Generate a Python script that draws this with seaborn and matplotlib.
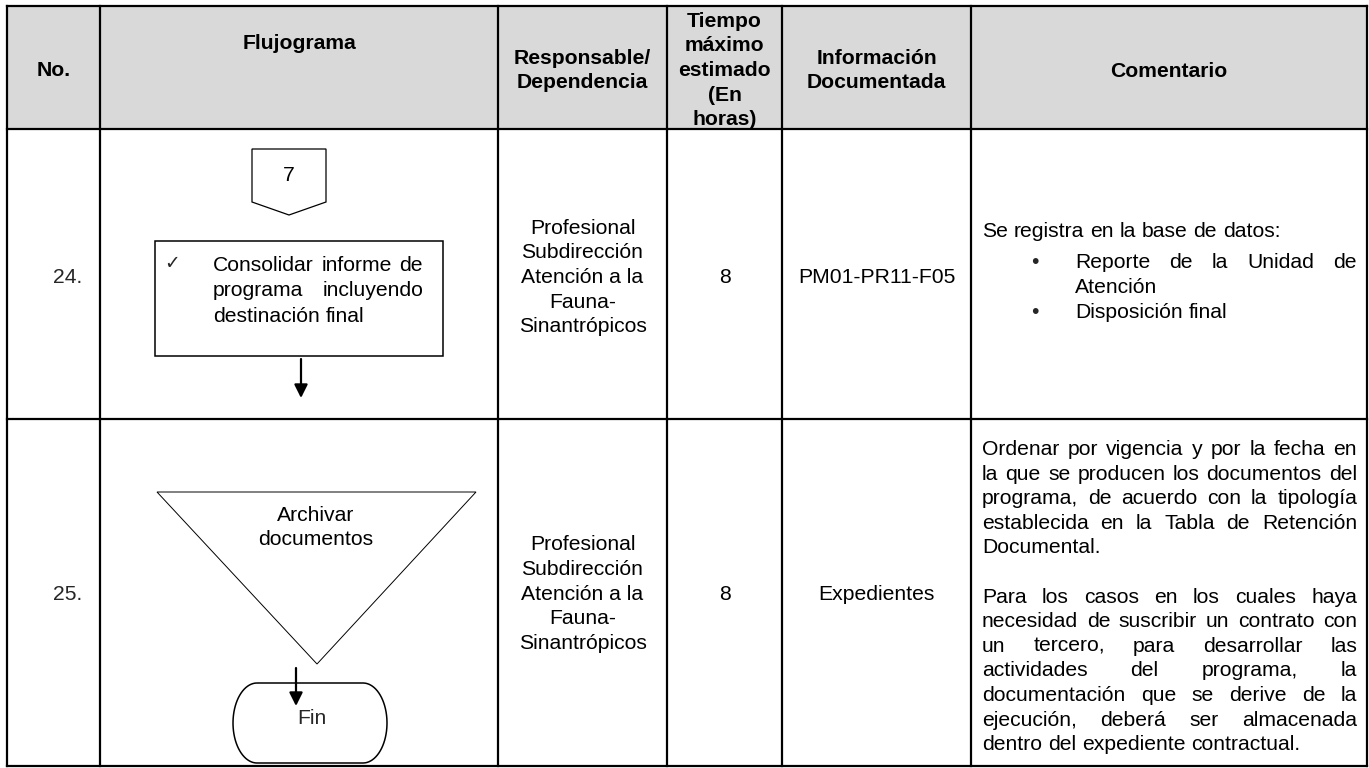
import matplotlib
matplotlib.use("Agg")
import matplotlib.pyplot as plt
import seaborn as sns
import numpy as np
from matplotlib.patches import Polygon, Rectangle, PathPatch
from matplotlib.path import Path

# ---------------- data ----------------
headers = ["No.", "Flujograma", "Responsable/\nDependencia",
           "Tiempo\nmáximo\nestimado\n(En\nhoras)", "Información\nDocumentada", "Comentario"]
row_numbers = ["24.", "25."]
responsables = ["Profesional\nSubdirección\nAtención a la\nFauna-\nSinantrópicos",
                "Profesional\nSubdirección\nAtención a la\nFauna-\nSinantrópicos"]
tiempos = ["8", "8"]
info_docs = ["PM01-PR11-F05", "Expedientes"]
connector_label = "7"
activity_lines = ["Consolidar informe de", "programa incluyendo", "destinación final"]
archive_label = "Archivar\ndocumentos"
end_label = "Fin"
comment24_intro = "Se registra en la base de datos:"
comment24_bullets = [["Reporte de la Unidad de", "Atención"], ["Disposición final"]]
comment25_lines = ["Ordenar por vigencia y por la fecha en",
                   "la que se producen los documentos del",
                   "programa, de acuerdo con la tipología",
                   "establecida en la Tabla de Retención",
                   "Documental.",
                   "",
                   "Para los casos en los cuales haya",
                   "necesidad de suscribir un contrato con",
                   "un tercero, para desarrollar las",
                   "actividades del programa, la",
                   "documentación que se derive de la",
                   "ejecución, deberá ser almacenada",
                   "dentro del expediente contractual."]

# ---------------- style ----------------
sns.set_theme(style="white")
plt.rcParams["font.family"] = ["Liberation Sans", "DejaVu Sans"]

W, H = 1369, 768
fig = plt.figure(figsize=(W / 100, H / 100), dpi=100)
ax = fig.add_axes([0, 0, 1, 1])
ax.set_xlim(0, W)
ax.set_ylim(H, 0)
ax.axis("off")

FS = 15.2          # ~21 px em
LS = 24.6          # line step in px
BASE = 7           # baseline offset from visual centre
renderer = fig.canvas.get_renderer()

col_x = [7, 100, 498, 667, 782, 971, 1367]
row_y = [6, 129, 419, 766]

# header background
ax.add_patch(Rectangle((col_x[0], row_y[0]), col_x[-1] - col_x[0], row_y[1] - row_y[0],
                       facecolor="#d9d9d9", edgecolor="none", zorder=0))


def block(x, yc, text, ha="center", weight="normal", fs=FS, step=LS):
    lines = text.split("\n")
    n = len(lines)
    for i, ln in enumerate(lines):
        y = yc + (i - (n - 1) / 2) * step + BASE
        ax.text(x, y, ln, ha=ha, va="baseline", fontsize=fs, weight=weight, color="black")


def width_of(s, fs=FS):
    t = ax.text(0, 0, s, fontsize=fs)
    w = t.get_window_extent(renderer).width
    t.remove()
    return w


def justified(line, yc, x0, x1, justify=True, fs=FS):
    words = line.split()
    if not words:
        return
    widths = [width_of(w, fs) for w in words]
    space = width_of("a a", fs) - width_of("aa", fs)
    if justify and len(words) > 1:
        gap = (x1 - x0 - sum(widths)) / (len(words) - 1)
    else:
        gap = space
    x = x0
    for w, wd in zip(words, widths):
        ax.text(x, yc + BASE, w, ha="left", va="baseline", fontsize=fs, color="black")
        x += wd + gap


# header texts
hdr_y = [69, 42, 69, 69, 69, 70]
for i, h in enumerate(headers):
    cx = (col_x[i] + col_x[i + 1]) / 2
    block(cx, hdr_y[i], h, weight="bold")

# row cells
row_c = [(row_y[1] + row_y[2]) / 2 + 2, (row_y[2] + row_y[3]) / 2]
for r in range(2):
    ax.text(82, row_c[r] + BASE, row_numbers[r], ha="right", va="baseline", fontsize=FS)
    block((col_x[2] + col_x[3]) / 2, row_c[r], responsables[r])
    block((col_x[3] + col_x[4]) / 2, row_c[r], tiempos[r])
    block((col_x[4] + col_x[5]) / 2, row_c[r], info_docs[r])

# ---- row 24 flowchart ----
ax.add_patch(Polygon([(252, 149), (326, 149), (326, 202), (289, 215), (252, 202)],
                     closed=True, fill=False, edgecolor="black", lw=0.9))
block(289, 174, connector_label)
ax.add_patch(Rectangle((155, 241), 288, 115, fill=False, edgecolor="black", lw=1.1))
ax.text(172, 263 + 6, "✓", ha="center", va="baseline", fontsize=13.5, family=["DejaVu Sans"])
box_y = [264, 289.5, 315]
for i, ln in enumerate(activity_lines):
    justified(ln, box_y[i], 213, 423, justify=(i < len(activity_lines) - 1))
ax.annotate("", xy=(301, 398), xytext=(301, 359),
            arrowprops=dict(arrowstyle="-|>", color="black", lw=1.6, mutation_scale=20,
                            shrinkA=0, shrinkB=0))

# ---- row 25 flowchart ----
ax.add_patch(Polygon([(157, 492), (476, 492), (317, 664)], closed=True, fill=False,
                     edgecolor="black", lw=0.7))
block(316, 526, archive_label)
# terminator (flat top/bottom with elliptical ends)
cx0, cx1, yt, yb = 257, 363, 683, 763
ry = (yb - yt) / 2
rx = 24
ym = (yt + yb) / 2
th_r = np.linspace(-np.pi / 2, np.pi / 2, 40)
right = np.column_stack([cx1 + rx * np.cos(th_r), ym + ry * np.sin(th_r)])
th_l = np.linspace(np.pi / 2, 3 * np.pi / 2, 40)
left = np.column_stack([cx0 + rx * np.cos(th_l), ym + ry * np.sin(th_l)])
verts = np.vstack([[cx0, yt], [cx1, yt], right, [cx0, yb], left, [cx0, yt]])
ax.add_patch(PathPatch(Path(verts), fill=False, edgecolor="black", lw=1.1))
ax.text(297, 717 + BASE, end_label, ha="left", va="baseline", fontsize=FS)
ax.annotate("", xy=(296, 706), xytext=(296, 668),
            arrowprops=dict(arrowstyle="-|>", color="black", lw=1.6, mutation_scale=20,
                            shrinkA=0, shrinkB=0))

# ---- comments ----
cL, cR = 982, 1357
justified(comment24_intro, 230, cL, cR, justify=False)
bullet_y = [[261, 286], [311]]
for b, lines in enumerate(comment24_bullets):
    ax.text(1035, bullet_y[b][0] + BASE, "•", ha="center", va="baseline", fontsize=FS)
    for j, ln in enumerate(lines):
        justified(ln, bullet_y[b][j], 1075, cR, justify=(j < len(lines) - 1))

y0 = 448
for i, ln in enumerate(comment25_lines):
    last = (i == len(comment25_lines) - 1) or comment25_lines[i + 1] == "" or ln.endswith("Documental.")
    justified(ln, y0 + i * LS, cL, cR, justify=not last)

# ---- table grid ----
for x in col_x:
    ax.plot([x, x], [row_y[0], row_y[-1]], color="black", lw=1.6, solid_capstyle="projecting")
for y in row_y:
    ax.plot([col_x[0], col_x[-1]], [y, y], color="black", lw=1.6, solid_capstyle="projecting")

fig.savefig("out.png", dpi=100)
